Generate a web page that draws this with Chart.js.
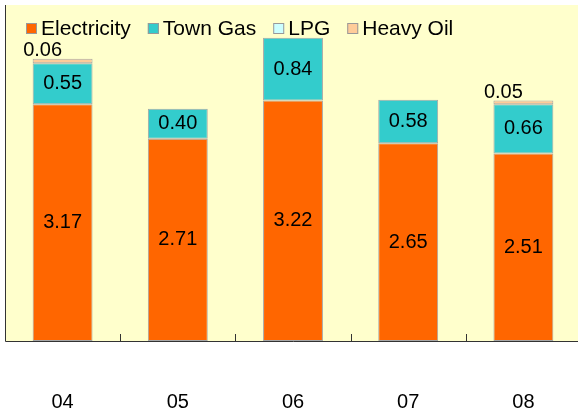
<!DOCTYPE html>
<html>
<head>
<meta charset="utf-8">
<script src="https://cdn.jsdelivr.net/npm/chart.js@4"></script>
<style>
    html, body { margin: 0; padding: 0; background: #fff; overflow: hidden; }
    #wrap { width: 578px; height: 414px; overflow: hidden; }
</style>
</head>
<body>
<div id="wrap"><canvas id="energyChart" width="581" height="414"></canvas></div>
<script>
const years = ['04', '05', '06', '07', '08'];
const electricity = [3.17, 2.71, 3.22, 2.65, 2.51];
const townGas = [0.55, 0.40, 0.84, 0.58, 0.66];
const lpg = [0, 0, 0, 0, 0];
const heavyOil = [0.06, 0, 0, 0, 0.05];

const FONT = '"Liberation Sans", Arial, sans-serif';

// yellow plot background, axis lines, inward ticks, category labels, legend and value labels
const decor = {
    id: 'decor',
    beforeDraw(chart) {
        const { ctx, chartArea: a } = chart;
        ctx.save();
        ctx.fillStyle = '#ffffcc';
        ctx.fillRect(a.left, a.top, a.right - a.left, a.bottom - a.top);
        ctx.restore();
    },
    afterDraw(chart) {
        const { ctx, chartArea: a } = chart;
        const x = chart.scales.x;
        ctx.save();
        ctx.strokeStyle = '#333';
        ctx.lineWidth = 1;
        ctx.beginPath();
        ctx.moveTo(a.left + 0.5, a.top);
        ctx.lineTo(a.left + 0.5, a.bottom + 0.5);
        ctx.lineTo(a.right, a.bottom + 0.5);
        for (let i = 0; i < years.length - 1; i++) {
            const px = Math.round((x.getPixelForValue(i) + x.getPixelForValue(i + 1)) / 2) + 0.5;
            ctx.moveTo(px, a.bottom);
            ctx.lineTo(px, a.bottom - 7);
        }
        ctx.stroke();

        ctx.fillStyle = '#000';
        ctx.textBaseline = 'middle';
        ctx.textAlign = 'center';
        ctx.font = '20px ' + FONT;
        years.forEach((y, i) => {
            ctx.fillText(y, x.getPixelForValue(i), 402);
        });

        // legend
        ctx.textAlign = 'left';
        ctx.font = '21px ' + FONT;
        let lx = 26;
        chart.data.datasets.forEach((ds) => {
            ctx.fillStyle = ds.backgroundColor;
            ctx.fillRect(lx, 23, 11, 11);
            ctx.strokeStyle = '#999';
            ctx.strokeRect(lx + 0.5, 23.5, 10, 10);
            ctx.fillStyle = '#000';
            ctx.fillText(ds.label, lx + 15, 29);
            lx += 15 + ctx.measureText(ds.label).width + 17;
        });

        // value labels
        ctx.textAlign = 'center';
        ctx.font = '20px ' + FONT;
        chart.data.datasets.forEach((ds, di) => {
            const meta = chart.getDatasetMeta(di);
            meta.data.forEach((bar, i) => {
                const v = ds.data[i];
                if (!v) return;
                const txt = v.toFixed(2);
                if (ds.label === 'Heavy Oil') {
                    ctx.fillText(txt, bar.x - 20, bar.y - 8);
                } else {
                    ctx.fillText(txt, bar.x, (bar.y + bar.base) / 2);
                }
            });
        });
        ctx.restore();
    }
};

const seg = (label, data, color) => ({
    label: label,
    data: data,
    backgroundColor: color,
    borderColor: '#a6a6a6',
    borderWidth: 1,
    borderSkipped: false,
    barPercentage: 0.52,
    categoryPercentage: 1.0,
});

new Chart(document.getElementById('energyChart'), {
    type: 'bar',
    data: {
        labels: years,
        datasets: [
            seg('Electricity', electricity, '#ff6600'),
            seg('Town Gas', townGas, '#33cccc'),
            seg('LPG', lpg, '#ccffff'),
            seg('Heavy Oil', heavyOil, '#ffcc99'),
        ],
    },
    options: {
        responsive: false,
        animation: false,
        layout: { padding: { left: 5, top: 5, right: 0, bottom: 65 } },
        plugins: { legend: { display: false }, tooltip: { enabled: false } },
        scales: {
            x: {
                stacked: true,
                grid: { display: false },
                border: { display: false },
                ticks: { display: false },
            },
            y: {
                stacked: true,
                display: false,
                min: 0,
                max: 4.5,
            },
        },
    },
    plugins: [decor],
});
</script>
</body>
</html>
